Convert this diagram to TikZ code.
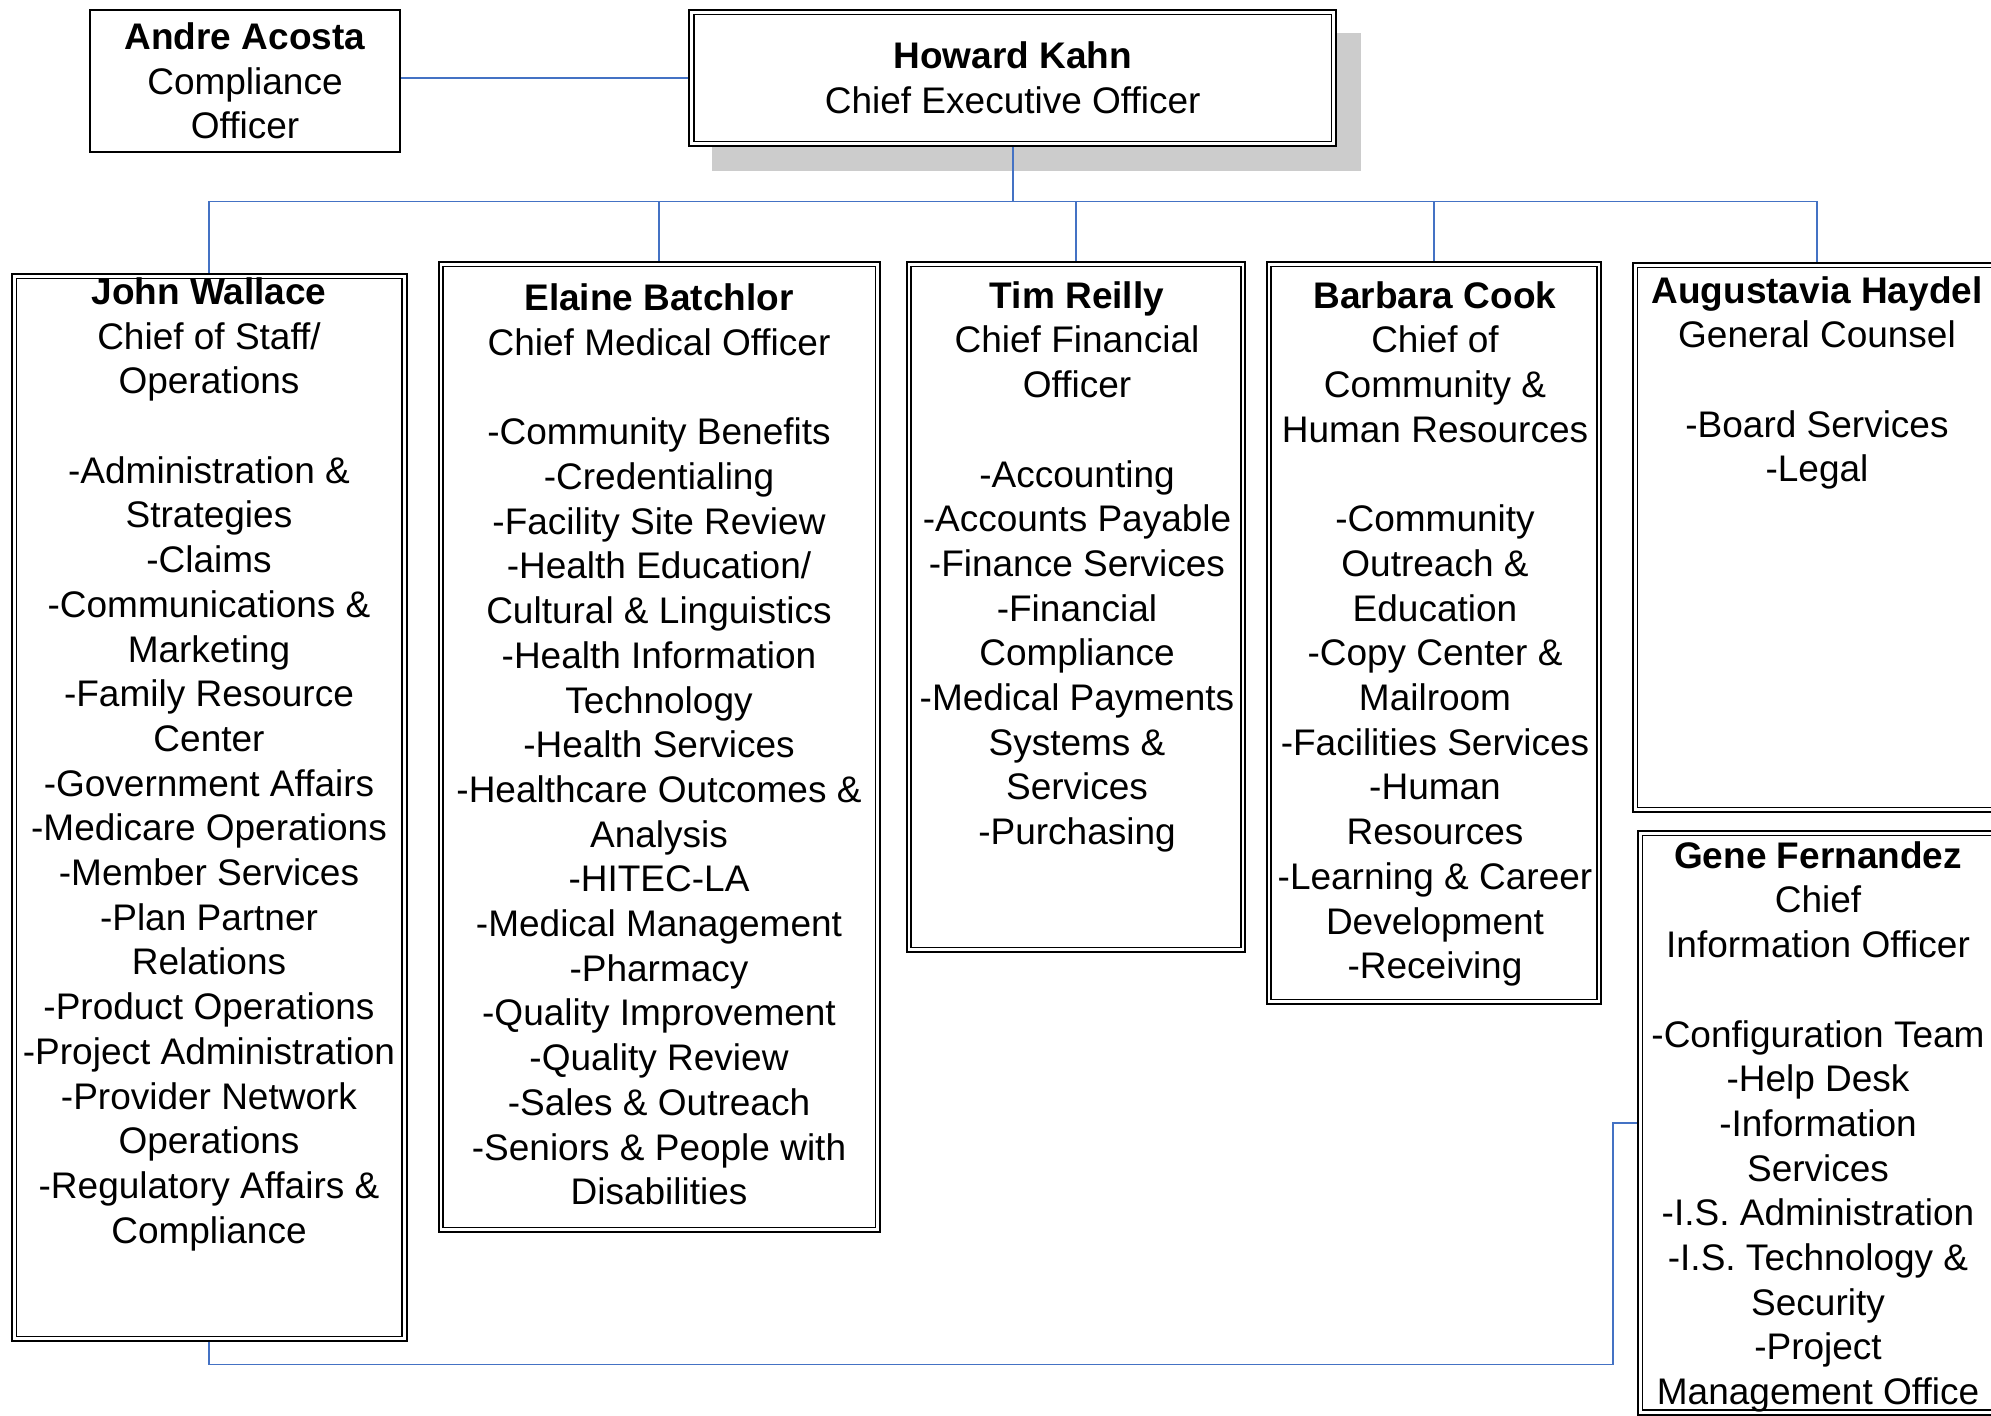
\documentclass[tikz,border=0pt]{standalone}
\usepackage{fontspec}
\setmainfont{Liberation Sans}
\usetikzlibrary{backgrounds,calc}
\definecolor{linkblue}{HTML}{4472C4}
\definecolor{shadowgray}{HTML}{CCCCCC}

\begin{document}
\begin{tikzpicture}[x=0.5pt,y=-0.5pt,
    every node/.style={font=\fontsize{18.5}{22.35}\selectfont},
    plainbox/.style={shape=rectangle,draw,line width=1pt,fill=white,align=center,inner sep=0pt},
    dblbox/.style={shape=rectangle,draw,line width=1pt,fill=white,inner sep=0pt,
        path picture={\draw [line width=0.65pt] ($(path picture bounding box.south west)+(2.25pt,2.25pt)$)
            rectangle ($(path picture bounding box.north east)+(-2.25pt,-2.25pt)$);}},
    unitlist/.style={anchor=north,align=center,inner sep=0pt},
    link/.style={draw=linkblue,line width=0.8pt}]
\useasboundingbox (0,0) rectangle (1991,1416);
\clip (0,0) rectangle (1991,1416);

% boxes
\path node (compl) at (245,81) [plainbox,minimum width=155pt,minimum height=71pt] {\textbf{Andre Acosta}\\Compliance\\Officer}
      node (ceo) at (1012.7,77.9) [dblbox,align=center,minimum width=323.35pt,minimum height=67.85pt] {\textbf{Howard Kahn}\\Chief Executive Officer}
      node (cos) at (209.15,807.2) [dblbox,minimum width=197.45pt,minimum height=533.5pt] {}
      node (cmo) at (659.25,746.85) [dblbox,minimum width=220.75pt,minimum height=485.15pt] {}
      node (cfo) at (1076,607) [dblbox,minimum width=169.45pt,minimum height=345.3pt] {}
      node (chr) at (1434,632.9) [dblbox,minimum width=167.45pt,minimum height=371.15pt] {}
      node (gc) at (1817,537.5) [dblbox,minimum width=184.3pt,minimum height=274.8pt] {}
      node (cio) at (1818,1122.75) [dblbox,minimum width=179.7pt,minimum height=291.75pt] {};

\begin{scope}[on background layer]
\fill [shadowgray] ($(ceo.north west)+(24,24)$) rectangle ($(ceo.south east)+(24,24)$);
\end{scope}

% texts in the boxes
\path node (cosunits) at (209,272.8) [unitlist] {\strut\textbf{John Wallace}\\Chief of Staff/\\Operations\\[\baselineskip]
        -Administration \&\\Strategies\\-Claims\\-Communications \&\\Marketing\\-Family Resource\\Center\\
        -Government Affairs\\-Medicare Operations\\-Member Services\\-Plan Partner\\Relations\\-Product Operations\\
        -Project Administration\\-Provider Network\\Operations\\-Regulatory Affairs \&\\Compliance}
      node (cmounits) at (659,279.1) [unitlist] {\strut\textbf{Elaine Batchlor}\\Chief Medical Officer\\[\baselineskip]
        -Community Benefits\\-Credentialing\\-Facility Site Review\\-Health Education/\\Cultural \& Linguistics\\
        -Health Information\\Technology\\-Health Services\\-Healthcare Outcomes \&\\Analysis\\-HITEC-LA\\
        -Medical Management\\-Pharmacy\\-Quality Improvement\\-Quality Review\\-Sales \& Outreach\\
        -Seniors \& People with\\Disabilities}
      node (cfounits) at (1077,276.6) [unitlist] {\strut\textbf{Tim Reilly}\\Chief Financial\\Officer\\[\baselineskip]
        -Accounting\\-Accounts Payable\\-Finance Services\\-Financial\\Compliance\\-Medical Payments\\Systems \&\\
        Services\\-Purchasing}
      node (chrunits) at (1435,276.6) [unitlist] {\strut\textbf{Barbara Cook}\\Chief of\\Community \&\\Human Resources\\[\baselineskip]
        -Community\\Outreach \&\\Education\\-Copy Center \&\\Mailroom\\-Facilities Services\\-Human\\Resources\\
        -Learning \& Career\\Development\\-Receiving}
      node (gcunits) at (1817,271.5) [unitlist] {\strut\textbf{Augustavia Haydel}\\General Counsel\\[\baselineskip]
        -Board Services\\-Legal}
      node (ciounits) at (1818,836.6) [unitlist] {\strut\textbf{Gene Fernandez}\\Chief\\Information Officer\\[\baselineskip]
        -Configuration Team\\-Help Desk\\-Information\\Services\\-I.S. Administration\\-I.S. Technology \&\\
        Security\\-Project\\Management Office};

% reporting lines
\coordinate (bus) at (1012.7,201.5);
\coordinate (loop) at (1613,1364.3);
\draw [link] (ceo.west) -- (ceo.west -| compl.east);
\draw [link] (ceo.south) -- (bus);
\draw [link] (bus) -| (cos.north);
\draw [link] (bus) -| (cmo.north);
\draw [link] (bus) -| (cfo.north);
\draw [link] (bus) -| (chr.north);
\draw [link] (bus) -| (gc.north);
\draw [link] (cos.south) |- (loop) |- (cio.west);
\end{tikzpicture}
\end{document}
